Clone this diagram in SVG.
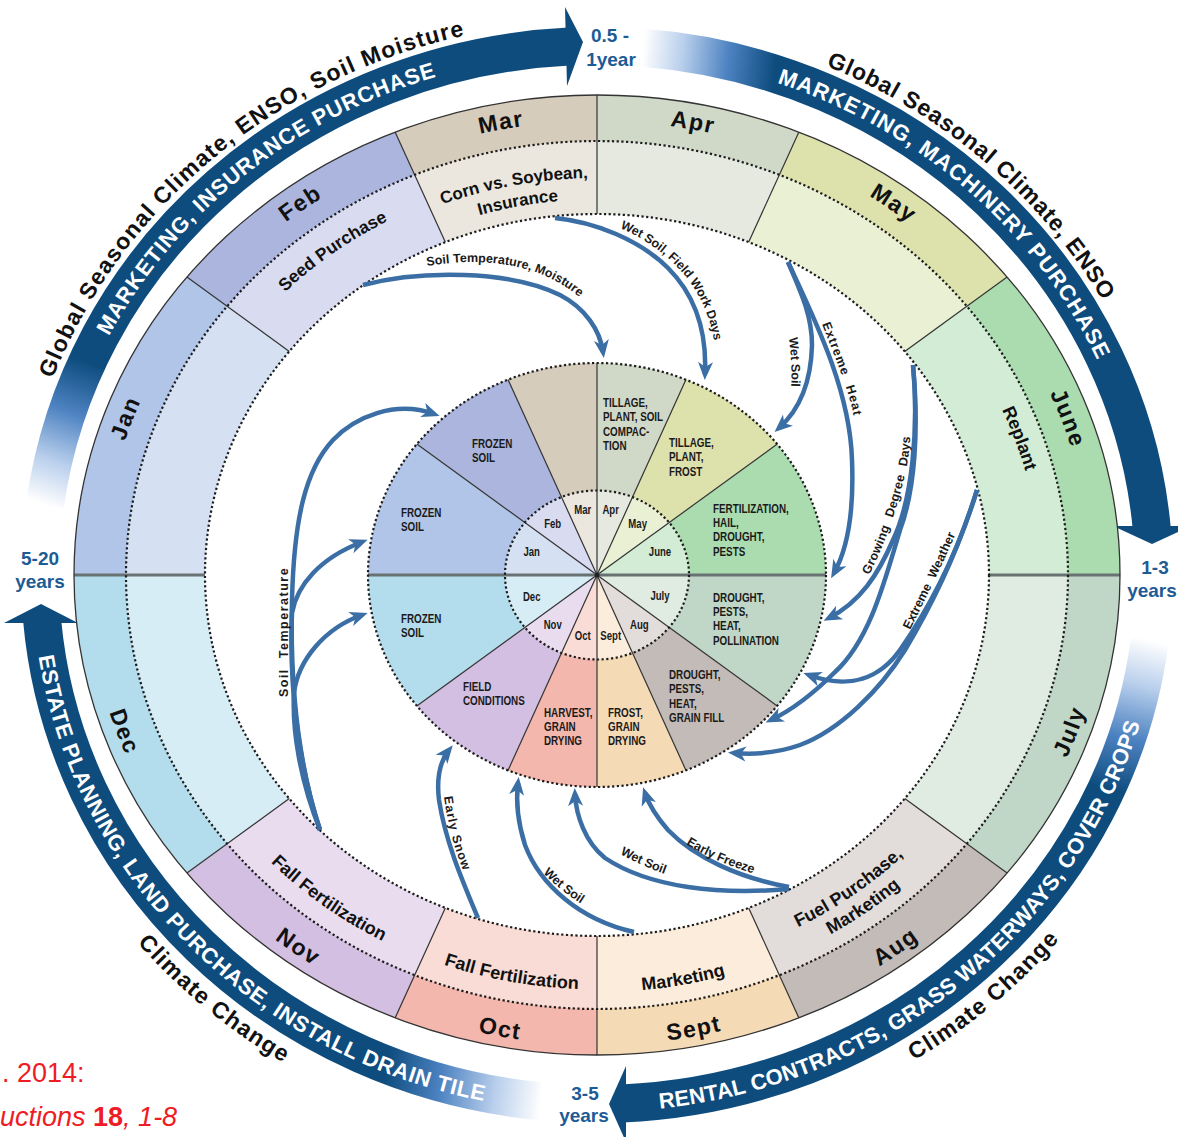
<svg xmlns="http://www.w3.org/2000/svg" width="1178" height="1137" viewBox="0 0 1178 1137">
<defs>
<style>
.dot{fill:none;stroke:#1c1c1c;stroke-width:2.2;stroke-dasharray:2.2 2.5}
.dv{stroke:#333;stroke-width:1.2}
.hd{stroke:#687272;stroke-width:3}
.band{fill:none;stroke-width:38}
.ah{fill:#0e4c7e}
.bt{font-family:"Liberation Sans",Arial,sans-serif;font-weight:700;font-size:22px;fill:#fff}
.ot{font-family:"Liberation Sans",Arial,sans-serif;font-weight:700;font-size:23px;fill:#111}
.mo{font-family:"Liberation Sans",Arial,sans-serif;font-weight:700;font-size:23px;fill:#111;letter-spacing:1.5px}
.act{font-family:"Liberation Sans",Arial,sans-serif;font-weight:700;font-size:18px;fill:#111}
.pl{font-family:"Liberation Sans",Arial,sans-serif;font-weight:700;font-size:13.5px;fill:#1a1a1a}
.sm{font-family:"Liberation Sans",Arial,sans-serif;font-weight:700;font-size:12px;fill:#1a1a1a;text-anchor:middle}
.cl{font-family:"Liberation Sans",Arial,sans-serif;font-weight:700;font-size:12.5px;fill:#1a1a1a}
.yr{font-family:"Liberation Sans",Arial,sans-serif;font-weight:700;font-size:19px;fill:#1d5b95;text-anchor:middle}
.con{fill:none;stroke:#3a6ea5;stroke-width:4.5;marker-end:url(#ah)}
.ref{font-family:"Liberation Sans",Arial,sans-serif;font-size:27px;fill:#ee1c24}
</style>
<marker id="ah" viewBox="-14 -9 22 18" markerWidth="22" markerHeight="18" refX="0" refY="0" orient="auto" markerUnits="userSpaceOnUse">
<path d="M6,0 L-12,-7.5 L-7,0 L-12,7.5 Z" fill="#3a6ea5"/>
</marker>
<linearGradient id="gTL" gradientUnits="userSpaceOnUse" x1="45" y1="505" x2="95" y2="365"><stop offset="0" stop-color="#fff"/><stop offset=".3" stop-color="#b9cfec"/><stop offset=".65" stop-color="#4c82c1"/><stop offset="1" stop-color="#0e4c7e"/></linearGradient>
<linearGradient id="gTR" gradientUnits="userSpaceOnUse" x1="643" y1="48" x2="775" y2="62"><stop offset="0" stop-color="#fff"/><stop offset=".3" stop-color="#b9cfec"/><stop offset=".65" stop-color="#4c82c1"/><stop offset="1" stop-color="#0e4c7e"/></linearGradient>
<linearGradient id="gBR" gradientUnits="userSpaceOnUse" x1="1150" y1="640" x2="1112" y2="790"><stop offset="0" stop-color="#fff"/><stop offset=".3" stop-color="#b9cfec"/><stop offset=".65" stop-color="#4c82c1"/><stop offset="1" stop-color="#0e4c7e"/></linearGradient>
<linearGradient id="gBL" gradientUnits="userSpaceOnUse" x1="542" y1="1100" x2="385" y2="1078"><stop offset="0" stop-color="#fff"/><stop offset=".3" stop-color="#b9cfec"/><stop offset=".65" stop-color="#4c82c1"/><stop offset="1" stop-color="#0e4c7e"/></linearGradient>
<path id="pTLb" d="M57.2,670.1 A549,521 0 0 1 776.4,82.6"/>
<path id="pTLo" d="M27.2,687.8 A582,554 0 0 1 776.5,48.0"/>
<path id="pTRb" d="M440.5,75.6 A549,521 0 0 1 1131.4,694.4"/>
<path id="pTRo" d="M425.0,45.8 A582,554 0 0 1 1165.0,695.8"/>
<path id="pBRb" d="M413.3,1082.8 A565,537 0 0 0 1152.3,476.0"/>
<path id="pBRo" d="M414.7,1119.9 A600,572 0 0 0 1183.8,455.6"/>
<path id="pBLb" d="M57.0,417.1 A565,537 0 0 0 724.6,1098.1"/>
<path id="pBLo" d="M9.1,460.7 A600,572 0 0 0 784.1,1118.5"/>
<path id="mJan" d="M111.3,658.0 A494,454 0 0 1 275.9,230.0"/>
<path id="mFeb" d="M142.6,396.8 A494,454 0 0 1 537.7,124.3"/>
<path id="mMar" d="M271.1,233.9 A494,454 0 0 1 755.6,145.0"/>
<path id="mApr" d="M438.4,145.0 A494,454 0 0 1 922.9,233.9"/>
<path id="mMay" d="M656.3,124.3 A494,454 0 0 1 1051.4,396.8"/>
<path id="mJun" d="M918.1,230.0 A494,454 0 0 1 1082.7,658.0"/>
<path id="mDec" d="M95.7,488.7 A510,470 0 0 0 265.3,932.0"/>
<path id="mNov" d="M127.6,758.9 A510,470 0 0 0 535.1,1041.5"/>
<path id="mOct" d="M260.4,928.1 A510,470 0 0 0 760.5,1020.2"/>
<path id="mSep" d="M433.5,1020.2 A510,470 0 0 0 933.6,928.1"/>
<path id="mAug" d="M658.9,1041.5 A510,470 0 0 0 1066.4,758.9"/>
<path id="mJul" d="M928.7,932.0 A510,470 0 0 0 1098.3,488.7"/>
<path id="aSeed" d="M178.9,454.9 A438,403 0 0 1 576.6,172.4"/>
<path id="aCorn1" d="M312.5,276.7 A431,397 0 0 1 735.2,199.0"/>
<path id="aCorn2" d="M327.4,292.7 A408.5,375.7 0 0 1 728.0,219.2"/>
<path id="aRepl" d="M887.9,267.7 A443,407.5 0 0 1 1031.8,653.0"/>
<path id="aFuel1" d="M649.4,970.1 A431.7,398 0 0 0 994.3,730.7"/>
<path id="aFuel2" d="M652.1,990.9 A454.5,419 0 0 0 1015.3,738.9"/>
<path id="aMkt" d="M452.0,970.4 A452.8,417.4 0 0 0 895.9,888.5"/>
<path id="aFFo" d="M300.1,886.2 A449.6,414.5 0 0 0 740.9,967.7"/>
<path id="aFFn" d="M179.0,732.0 A451.4,416.1 0 0 0 535.5,987.2"/>
<path id="l1" d="M427,266 Q500,254 552,279 Q585,296 600,322"/>
<path id="l2" d="M620,228 C648,240 672,258 690,282 C706,305 714,330 716,356"/>
<path id="l3" d="M789,338 C791,355 792,372 791,394"/>
<path id="l4" d="M822,324 C832,350 845,380 852,408 L856,430"/>
<path id="l5" d="M869,575 C885,545 900,500 906,470 C909,455 910,443 911,428"/>
<path id="l6" d="M910,630 C925,600 945,560 962,519"/>
<path id="l8" d="M444,797 C447,820 454,850 467,880"/>
<path id="l9" d="M543,873 C555,885 568,896 588,908"/>
<path id="l10" d="M620,854 C635,862 650,869 670,876"/>
<path id="l11" d="M686,844 C705,856 728,866 758,875"/>
</defs>
<rect width="1178" height="1137" fill="#fff"/>

<g id="timescale-arrows">
<path class="band" stroke="url(#gTL)" d="M45,505 A557,529 0 0 1 569,46.6"/>
<polygon class="ah" points="565,7 583,42 567,86"/>
<path class="band" stroke="url(#gTR)" d="M643,47.8 A557,529 0 0 1 1151.8,529"/>
<polygon class="ah" points="1113,526 1152,544 1191,526"/>
<path class="band" stroke="url(#gBR)" d="M1149.8,640 A557,529 0 0 1 622,1103.5"/>
<polygon class="ah" points="626,1066 609,1104 626,1142"/>
<path class="band" stroke="url(#gBL)" d="M540,1101.2 A557,529 0 0 1 42.1,620"/>
<polygon class="ah" points="4,623 41,604 78,623"/>
<text class="bt" style="letter-spacing:0.8px" text-anchor="middle"><textPath href="#pTLb" startOffset="50%">MARKETING, INSURANCE PURCHASE</textPath></text>
<text class="ot" style="letter-spacing:1.25px" text-anchor="middle"><textPath href="#pTLo" startOffset="50%">Global Seasonal Climate, ENSO, Soil Moisture</textPath></text>
<text class="bt" style="letter-spacing:1px" text-anchor="middle"><textPath href="#pTRb" startOffset="50%">MARKETING, MACHINERY PURCHASE</textPath></text>
<text class="ot" style="letter-spacing:0.8px" text-anchor="middle"><textPath href="#pTRo" startOffset="50%">Global Seasonal Climate, ENSO</textPath></text>
<text class="bt" style="letter-spacing:0.2px" text-anchor="middle"><textPath href="#pBRb" startOffset="50%">RENTAL CONTRACTS, GRASS WATERWAYS, COVER CROPS</textPath></text>
<text class="ot" style="letter-spacing:1.2px" text-anchor="middle"><textPath href="#pBRo" startOffset="50%">Climate Change</textPath></text>
<text class="bt" style="letter-spacing:0.6px" text-anchor="middle"><textPath href="#pBLb" startOffset="50%">ESTATE PLANNING, LAND PURCHASE, INSTALL DRAIN TILE</textPath></text>
<text class="ot" style="letter-spacing:1.2px" text-anchor="middle"><textPath href="#pBLo" startOffset="50%">Climate Change</textPath></text>
<text class="yr" x="610" y="42">0.5 -</text>
<text class="yr" x="611" y="66">1year</text>
<text class="yr" x="1155" y="574">1-3</text>
<text class="yr" x="1152" y="597">years</text>
<text class="yr" x="585" y="1100">3-5</text>
<text class="yr" x="584" y="1122">years</text>
<text class="yr" x="40" y="565">5-20</text>
<text class="yr" x="40" y="588">years</text>
</g>

<g id="outer-ring">
<g id="ring-month-band">
<path fill="#aadcb0" d="M597,575 L1120,575 A523,480 0 0 0 1007.1,277.1 Z"/>
<path fill="#dde1ac" d="M597,575 L1007.1,277.1 A523,480 0 0 0 798.8,132.2 Z"/>
<path fill="#d0d9c8" d="M597,575 L798.8,132.2 A523,480 0 0 0 597,95 Z"/>
<path fill="#d6ccbc" d="M597,575 L597,95 A523,480 0 0 0 395.2,132.2 Z"/>
<path fill="#abb5dd" d="M597,575 L395.2,132.2 A523,480 0 0 0 186.9,277.1 Z"/>
<path fill="#b1c5e8" d="M597,575 L186.9,277.1 A523,480 0 0 0 74,575 Z"/>
<path fill="#b3dcec" d="M597,575 L74,575 A523,480 0 0 0 186.9,872.9 Z"/>
<path fill="#d3bfe1" d="M597,575 L186.9,872.9 A523,480 0 0 0 395.2,1017.8 Z"/>
<path fill="#f3b7ad" d="M597,575 L395.2,1017.8 A523,480 0 0 0 597,1055 Z"/>
<path fill="#f5dab6" d="M597,575 L597,1055 A523,480 0 0 0 798.8,1017.8 Z"/>
<path fill="#c3bbb7" d="M597,575 L798.8,1017.8 A523,480 0 0 0 1007.1,872.9 Z"/>
<path fill="#c0d7c7" d="M597,575 L1007.1,872.9 A523,480 0 0 0 1120,575 Z"/>
</g>
<g id="ring-activity-band">
<path fill="#d3ecd5" d="M597,575 L1068,575 A471,434 0 0 0 966.9,306.3 Z"/>
<path fill="#eaf0d4" d="M597,575 L966.9,306.3 A471,434 0 0 0 779.4,174.8 Z"/>
<path fill="#e5e9e0" d="M597,575 L779.4,174.8 A471,434 0 0 0 597,141 Z"/>
<path fill="#ebe6de" d="M597,575 L597,141 A471,434 0 0 0 414.6,174.8 Z"/>
<path fill="#d9dcf1" d="M597,575 L414.6,174.8 A471,434 0 0 0 227.1,306.3 Z"/>
<path fill="#d5e1f3" d="M597,575 L227.1,306.3 A471,434 0 0 0 126,575 Z"/>
<path fill="#d6edf5" d="M597,575 L126,575 A471,434 0 0 0 227.1,843.7 Z"/>
<path fill="#e9dcef" d="M597,575 L227.1,843.7 A471,434 0 0 0 414.6,975.2 Z"/>
<path fill="#f8dcd5" d="M597,575 L414.6,975.2 A471,434 0 0 0 597,1009 Z"/>
<path fill="#fbecdb" d="M597,575 L597,1009 A471,434 0 0 0 779.4,975.2 Z"/>
<path fill="#e2dddb" d="M597,575 L779.4,975.2 A471,434 0 0 0 966.9,843.7 Z"/>
<path fill="#e0ebe1" d="M597,575 L966.9,843.7 A471,434 0 0 0 1068,575 Z"/>
</g>
<ellipse cx="597" cy="575" rx="392" ry="361" fill="#fff"/>
<g id="ring-dividers">
<line class="dv" x1="1007.1" y1="277.1" x2="904.7" y2="351.4"/>
<line class="dv" x1="798.8" y1="132.2" x2="748.7" y2="242.1"/>
<line class="dv" x1="395.2" y1="132.2" x2="445.3" y2="242.1"/>
<line class="dv" x1="186.9" y1="277.1" x2="289.3" y2="351.4"/>
<line class="dv" x1="186.9" y1="872.9" x2="289.3" y2="798.6"/>
<line class="dv" x1="395.2" y1="1017.8" x2="445.3" y2="907.9"/>
<line class="dv" x1="798.8" y1="1017.8" x2="748.7" y2="907.9"/>
<line class="dv" x1="1007.1" y1="872.9" x2="904.7" y2="798.6"/>
<line class="dv" x1="597" y1="95" x2="597" y2="214"/>
<line class="dv" x1="597" y1="936" x2="597" y2="1055"/>
<line class="hd" x1="74" y1="575" x2="205" y2="575"/>
<line class="hd" x1="989" y1="575" x2="1120" y2="575"/>
</g>
<ellipse cx="597" cy="575" rx="523" ry="480" fill="none" stroke="#333" stroke-width="1.3"/>
<ellipse class="dot" cx="597" cy="575" rx="471" ry="434"/>
<ellipse class="dot" cx="597" cy="575" rx="392" ry="361"/>
<g id="ring-month-labels" class="mo" text-anchor="middle">
<text><textPath href="#mJan" startOffset="50%">Jan</textPath></text>
<text><textPath href="#mFeb" startOffset="50%">Feb</textPath></text>
<text><textPath href="#mMar" startOffset="50%">Mar</textPath></text>
<text><textPath href="#mApr" startOffset="50%">Apr</textPath></text>
<text><textPath href="#mMay" startOffset="50%">May</textPath></text>
<text><textPath href="#mJun" startOffset="50%">June</textPath></text>
<text><textPath href="#mJul" startOffset="50%">July</textPath></text>
<text><textPath href="#mAug" startOffset="50%">Aug</textPath></text>
<text><textPath href="#mSep" startOffset="50%">Sept</textPath></text>
<text><textPath href="#mOct" startOffset="50%">Oct</textPath></text>
<text><textPath href="#mNov" startOffset="50%">Nov</textPath></text>
<text><textPath href="#mDec" startOffset="50%">Dec</textPath></text>
</g>
<g id="ring-activity-labels" class="act" text-anchor="middle">
<text style="font-size:17.5px"><textPath href="#aSeed" startOffset="50%">Seed Purchase</textPath></text>
<text style="font-size:17px"><textPath href="#aCorn1" startOffset="50%">Corn vs. Soybean,</textPath></text>
<text style="font-size:17px"><textPath href="#aCorn2" startOffset="50%">Insurance</textPath></text>
<text><textPath href="#aRepl" startOffset="50%">Replant</textPath></text>
<text><textPath href="#aFuel1" startOffset="50%">Fuel Purchase,</textPath></text>
<text><textPath href="#aFuel2" startOffset="50%">Marketing</textPath></text>
<text><textPath href="#aMkt" startOffset="50%">Marketing</textPath></text>
<text><textPath href="#aFFo" startOffset="50%">Fall Fertilization</textPath></text>
<text><textPath href="#aFFn" startOffset="50%">Fall Fertilization</textPath></text>
</g>
</g>

<g id="inner-pie">
<g id="pie-risks">
<path fill="#aadcb0" d="M597,575 L826,575 A229,212 0 0 0 777.2,444.1 Z"/>
<path fill="#dde1ac" d="M597,575 L777.2,444.1 A229,212 0 0 0 686,379.6 Z"/>
<path fill="#d0d9c8" d="M597,575 L686,379.6 A229,212 0 0 0 597,363 Z"/>
<path fill="#d6ccbc" d="M597,575 L597,363 A229,212 0 0 0 508,379.6 Z"/>
<path fill="#abb5dd" d="M597,575 L508,379.6 A229,212 0 0 0 416.8,444.1 Z"/>
<path fill="#b1c5e8" d="M597,575 L416.8,444.1 A229,212 0 0 0 368,575 Z"/>
<path fill="#b3dcec" d="M597,575 L368,575 A229,212 0 0 0 416.8,705.9 Z"/>
<path fill="#d3bfe1" d="M597,575 L416.8,705.9 A229,212 0 0 0 508,770.4 Z"/>
<path fill="#f3b7ad" d="M597,575 L508,770.4 A229,212 0 0 0 597,787 Z"/>
<path fill="#f5dab6" d="M597,575 L597,787 A229,212 0 0 0 686,770.4 Z"/>
<path fill="#c3bbb7" d="M597,575 L686,770.4 A229,212 0 0 0 777.2,705.9 Z"/>
<path fill="#c0d7c7" d="M597,575 L777.2,705.9 A229,212 0 0 0 826,575 Z"/>
</g>
<g id="pie-months">
<path fill="#d3ecd5" d="M597,575 L689,575 A92,84.5 0 0 0 669.2,522.6 Z"/>
<path fill="#eaf0d4" d="M597,575 L669.2,522.6 A92,84.5 0 0 0 632.5,497.05 Z"/>
<path fill="#e5e9e0" d="M597,575 L632.5,497.05 A92,84.5 0 0 0 597,490.5 Z"/>
<path fill="#ebe6de" d="M597,575 L597,490.5 A92,84.5 0 0 0 561.5,497.05 Z"/>
<path fill="#d9dcf1" d="M597,575 L561.5,497.05 A92,84.5 0 0 0 524.8,522.6 Z"/>
<path fill="#d5e1f3" d="M597,575 L524.8,522.6 A92,84.5 0 0 0 505,575 Z"/>
<path fill="#d6edf5" d="M597,575 L505,575 A92,84.5 0 0 0 524.8,627.4 Z"/>
<path fill="#e9dcef" d="M597,575 L524.8,627.4 A92,84.5 0 0 0 561.5,652.95 Z"/>
<path fill="#f8dcd5" d="M597,575 L561.5,652.95 A92,84.5 0 0 0 597,659.5 Z"/>
<path fill="#fbecdb" d="M597,575 L597,659.5 A92,84.5 0 0 0 632.5,652.95 Z"/>
<path fill="#e2dddb" d="M597,575 L632.5,652.95 A92,84.5 0 0 0 669.2,627.4 Z"/>
<path fill="#e0ebe1" d="M597,575 L669.2,627.4 A92,84.5 0 0 0 689,575 Z"/>
</g>
<g id="pie-dividers">
<line class="dv" x1="597" y1="575" x2="777.2" y2="444.1"/>
<line class="dv" x1="597" y1="575" x2="686" y2="379.6"/>
<line class="dv" x1="597" y1="575" x2="508" y2="379.6"/>
<line class="dv" x1="597" y1="575" x2="416.8" y2="444.1"/>
<line class="dv" x1="597" y1="575" x2="416.8" y2="705.9"/>
<line class="dv" x1="597" y1="575" x2="508" y2="770.4"/>
<line class="dv" x1="597" y1="575" x2="686" y2="770.4"/>
<line class="dv" x1="597" y1="575" x2="777.2" y2="705.9"/>
<line class="dv" x1="597" y1="363" x2="597" y2="787"/>
<line class="hd" x1="368" y1="575" x2="826" y2="575"/>
<circle cx="597" cy="575" r="2.5" fill="#222"/>
</g>
<ellipse class="dot" cx="597" cy="575" rx="229" ry="212"/>
<ellipse class="dot" cx="597" cy="575" rx="92" ry="84.5"/>
<g id="pie-risk-labels" class="pl">
<text transform="translate(472,447.5) scale(0.73,1)"><tspan x="0" y="0">FROZEN</tspan><tspan x="0" y="14.5">SOIL</tspan></text>
<text transform="translate(401,516.5) scale(0.73,1)"><tspan x="0" y="0">FROZEN</tspan><tspan x="0" y="14.5">SOIL</tspan></text>
<text transform="translate(401,622.5) scale(0.73,1)"><tspan x="0" y="0">FROZEN</tspan><tspan x="0" y="14.5">SOIL</tspan></text>
<text transform="translate(463,690.8) scale(0.73,1)"><tspan x="0" y="0">FIELD</tspan><tspan x="0" y="14.5">CONDITIONS</tspan></text>
<text transform="translate(544,716.5) scale(0.73,1)"><tspan x="0" y="0">HARVEST,</tspan><tspan x="0" y="14.5">GRAIN</tspan><tspan x="0" y="29">DRYING</tspan></text>
<text transform="translate(608,716.5) scale(0.73,1)"><tspan x="0" y="0">FROST,</tspan><tspan x="0" y="14.5">GRAIN</tspan><tspan x="0" y="29">DRYING</tspan></text>
<text transform="translate(669,678.8) scale(0.73,1)"><tspan x="0" y="0">DROUGHT,</tspan><tspan x="0" y="14.5">PESTS,</tspan><tspan x="0" y="29">HEAT,</tspan><tspan x="0" y="43.5">GRAIN FILL</tspan></text>
<text transform="translate(713,601.5) scale(0.73,1)"><tspan x="0" y="0">DROUGHT,</tspan><tspan x="0" y="14.5">PESTS,</tspan><tspan x="0" y="29">HEAT,</tspan><tspan x="0" y="43.5">POLLINATION</tspan></text>
<text transform="translate(713,512.5) scale(0.73,1)"><tspan x="0" y="0">FERTILIZATION,</tspan><tspan x="0" y="14.5">HAIL,</tspan><tspan x="0" y="29">DROUGHT,</tspan><tspan x="0" y="43.5">PESTS</tspan></text>
<text transform="translate(669,447) scale(0.73,1)"><tspan x="0" y="0">TILLAGE,</tspan><tspan x="0" y="14.5">PLANT,</tspan><tspan x="0" y="29">FROST</tspan></text>
<text transform="translate(603,407) scale(0.73,1)"><tspan x="0" y="0">TILLAGE,</tspan><tspan x="0" y="14.5">PLANT, SOIL</tspan><tspan x="0" y="29">COMPAC-</tspan><tspan x="0" y="43.5">TION</tspan></text>
</g>
<g id="pie-month-labels" class="sm">
<text transform="translate(582.7,514.3) scale(0.8,1)">Mar</text>
<text transform="translate(610.7,514.3) scale(0.8,1)">Apr</text>
<text transform="translate(637.7,528.3) scale(0.8,1)">May</text>
<text transform="translate(660,556) scale(0.8,1)">June</text>
<text transform="translate(660,600) scale(0.8,1)">July</text>
<text transform="translate(639.3,628.6) scale(0.8,1)">Aug</text>
<text transform="translate(610.7,640.3) scale(0.8,1)">Sept</text>
<text transform="translate(582.7,640.3) scale(0.8,1)">Oct</text>
<text transform="translate(552.7,628.6) scale(0.8,1)">Nov</text>
<text transform="translate(531.7,601) scale(0.8,1)">Dec</text>
<text transform="translate(531.7,556) scale(0.8,1)">Jan</text>
<text transform="translate(552.7,528.3) scale(0.8,1)">Feb</text>
</g>
</g>

<g id="connectors">
<path class="con" d="M363,285 C420,270 510,270 560,295 C585,308 600,330 603,352"/>
<path class="con" d="M555,218 C595,222 640,240 668,268 C695,295 707,330 705,374"/>
<path class="con" d="M788,262 C800,290 812,315 812,345 C811,385 797,412 779,428"/>
<path class="con" d="M788,262 C815,320 850,390 852,460 C854,510 848,548 834,573"/>
<path class="con" d="M913,365 C919,430 912,500 893,540 C878,575 860,602 829,618"/>
<path class="con" d="M913,365 C919,430 915,490 900,530 C885,580 870,640 835,672 C815,692 792,710 771,720"/>
<path class="con" d="M977,490 C960,545 935,600 900,650 C880,678 850,690 809,675"/>
<path class="con" d="M977,490 C960,545 935,600 905,650 C880,690 840,730 800,745 C780,752 757,755 734,753"/>
<path class="con" d="M320,830 C297,760 290,680 292,600 C294,520 305,470 333,440 C355,417 395,400 434,414"/>
<path class="con" d="M320,830 C297,760 289,680 292,613 C297,585 320,558 362,542"/>
<path class="con" d="M320,830 C300,780 292,730 294,693 C298,660 325,628 362,615"/>
<path class="con" d="M478,918 C462,880 445,840 439,800 C436,775 441,760 449,750"/>
<path class="con" d="M634,932 C580,920 540,885 525,845 C517,820 516,800 518,783"/>
<path class="con" d="M789,889 C720,895 650,888 605,858 C585,842 576,815 575,794"/>
<path class="con" d="M789,887 C740,878 695,858 668,830 C655,815 648,802 645,793"/>
</g>
<g id="connector-labels" class="cl">
<text><textPath href="#l1">Soil Temperature, Moisture</textPath></text>
<text><textPath href="#l2">Wet Soil, Field Work Days</textPath></text>
<text><textPath href="#l3">Wet Soil</textPath></text>
<text style="letter-spacing:1px;word-spacing:6px"><textPath href="#l4">Extreme Heat</textPath></text>
<text style="word-spacing:5px;letter-spacing:0.3px"><textPath href="#l5">Growing Degree Days</textPath></text>
<text style="word-spacing:4px"><textPath href="#l6">Extreme Weather</textPath></text>
<text style="letter-spacing:1.5px;word-spacing:5px" transform="translate(288,632) rotate(-90)" text-anchor="middle">Soil Temperature</text>
<text style="letter-spacing:1px"><textPath href="#l8">Early Snow</textPath></text>
<text><textPath href="#l9">Wet Soil</textPath></text>
<text><textPath href="#l10">Wet Soil</textPath></text>
<text><textPath href="#l11">Early Freeze</textPath></text>
</g>

<g id="reference">
<text class="ref" x="2" y="1082">. 2014:</text>
<text class="ref" x="0" y="1126"><tspan font-style="italic">uctions </tspan><tspan font-weight="700">18</tspan><tspan font-style="italic">, 1-8</tspan></text>
</g>
</svg>
